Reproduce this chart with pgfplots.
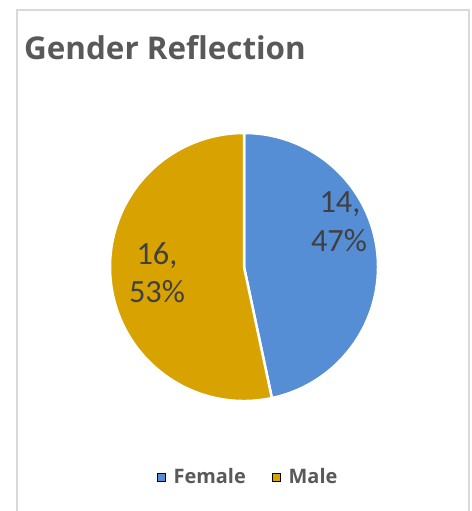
\documentclass[border=0pt]{standalone}
\usepackage{pgfplots}
\pgfplotsset{compat=1.18}
\usepackage{pgfplotstable}
\usepackage{fontspec}
\setmainfont{Carlito}
\newfontfamily\headfont{Open Sans}
\definecolor{pieblue}{RGB}{85,142,213}
\definecolor{piegold}{RGB}{216,163,0}
\definecolor{titlegray}{RGB}{89,89,89}
\definecolor{labelgray}{RGB}{64,64,64}
\definecolor{framegray}{RGB}{217,217,217}
\pgfplotstableread{
label value
Female 14
Male 16
}\piedata
\begin{document}
\begin{tikzpicture}[x=1bp,y=1bp]
\useasboundingbox (0,0) rectangle (472,511);
\fill[white] (0,0) rectangle (472,511);
\draw[framegray, line width=1.5bp] (17,-10) -- (17,501) -- (469,501) -- (469,-10);
\pgfplotstablegetelem{0}{value}\of\piedata \let\vF\pgfplotsretval
\pgfplotstablegetelem{1}{value}\of\piedata \let\vM\pgfplotsretval
\pgfmathsetmacro{\aF}{360*\vF/(\vF+\vM)}
\begin{axis}[
  at={(0,0)}, anchor=south west,
  scale only axis, width=472bp, height=511bp,
  xmin=0, xmax=472, ymin=0, ymax=511,
  hide axis, clip=false,
  legend style={draw=none, fill=none, at={(0.5255,0.0665)}, anchor=center,
    font=\headfont\bfseries\fontsize{20}{23}\selectfont, text=titlegray,
    legend columns=2,
    /tikz/every odd column/.append style={column sep=6bp},
    /tikz/every even column/.append style={column sep=24bp},
    legend cell align=left},
  legend image code/.code={\fill[#1] (0bp,-4.5bp) rectangle (8.5bp,4bp);},
]
\fill[pieblue, draw=white, line width=2.5bp] (axis cs:244,244) -- (axis cs:244,378)
  arc[start angle=90, end angle={90-\aF}, radius=134bp] -- cycle;
\fill[piegold, draw=white, line width=2.5bp] (axis cs:244,244) -- ++({90-\aF}:134bp)
  arc[start angle={90-\aF}, end angle=-270, radius=134bp] -- cycle;
\addlegendimage{fill=pieblue}
\addlegendentry{Female}
\addlegendimage{fill=piegold}
\addlegendentry{Male}
\node[anchor=base, text=labelgray, font=\fontsize{32.5}{37}\selectfont] at (axis cs:340,298) {14,};
\node[anchor=base, text=labelgray, font=\fontsize{32.5}{37}\selectfont] at (axis cs:339,259) {47\%};
\node[anchor=base, text=labelgray, font=\fontsize{32.5}{37}\selectfont] at (axis cs:157,246) {16,};
\node[anchor=base, text=labelgray, font=\fontsize{32.5}{37}\selectfont] at (axis cs:157,208) {53\%};
\node[anchor=base west, text=titlegray, font=\headfont\bfseries\fontsize{31.5}{36}\selectfont, inner sep=0pt] at (axis cs:24,451.5) {Gender Reflection};
\end{axis}
\end{tikzpicture}
\end{document}
